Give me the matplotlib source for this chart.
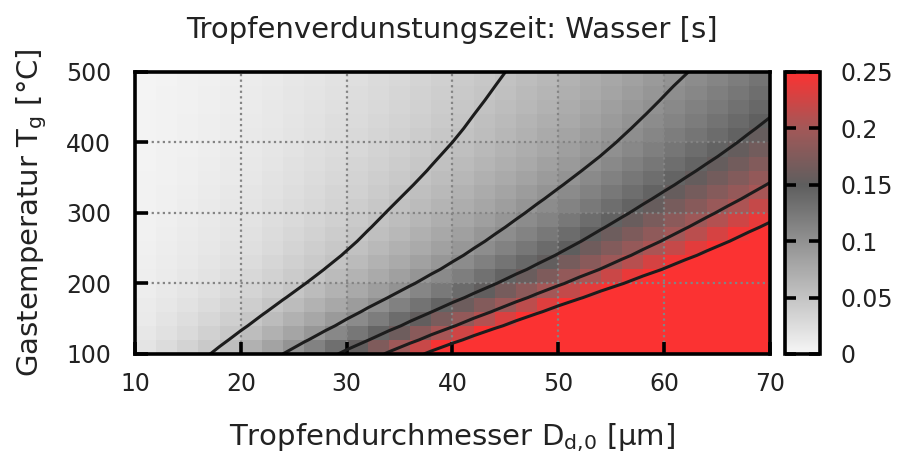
import numpy as np
import matplotlib
matplotlib.use("Agg")
import matplotlib.pyplot as plt
from matplotlib.colors import LinearSegmentedColormap

# droplet diameter D_d,0 [µm] (grid nodes)
diam = [10,12,14,16,18,20,22,24,26,28,30,32,34,36,38,40,42,44,46,48,50,52,54,56,58,60,62,64,66,68,70]
# gas temperature T_g [°C] (grid nodes)
temps = [100,120,140,160,180,200,220,240,260,280,300,320,340,360,380,400,420,440,460,480,500]
# evaporation time [ms], one row per temperature, one column per diameter
evap_time_ms = [
    [17,24,33,43,55,68,83,100,118,137,158,181,205,232,259,289,320,353,388,425,464,504,547,591,637,685,735,787,842,898,956],
    [13,19,27,35,44,55,67,80,95,110,127,146,165,186,209,233,258,285,313,342,373,406,440,476,513,552,592,634,678,723,770],
    [11,16,22,29,37,46,56,67,79,92,107,122,138,156,175,195,216,238,262,286,312,340,368,398,429,462,496,531,567,605,644],
    [9,14,19,25,31,39,47,57,67,78,90,103,117,132,148,164,182,201,221,242,264,287,311,336,362,390,418,448,479,511,544],
    [8,12,16,21,27,33,40,48,57,66,77,88,100,112,126,140,155,171,188,206,225,244,265,286,309,332,356,381,408,435,463],
    [7,10,14,18,23,28,35,41,49,57,66,75,85,96,108,120,133,147,162,177,193,210,227,246,265,285,306,328,350,374,398],
    [6,9,12,16,20,25,30,36,43,50,58,66,75,84,95,105,117,129,142,155,169,184,199,215,232,250,268,287,307,327,349],
    [5,8,11,14,18,22,27,32,38,44,51,59,67,75,84,94,104,115,126,138,151,164,177,192,207,222,239,256,273,291,310],
    [5,7,10,13,16,20,24,29,35,40,46,53,60,68,76,85,94,104,114,125,136,148,161,174,187,201,216,231,247,264,281],
    [4,6,9,12,15,18,22,27,32,37,42,49,55,62,70,78,86,95,104,114,124,135,147,159,171,184,197,211,226,241,257],
    [4,6,8,11,14,17,20,25,29,34,39,45,51,57,64,71,79,87,96,105,114,124,134,145,157,169,181,194,207,221,235],
    [4,5,7,10,13,16,19,23,27,31,36,41,47,53,59,66,73,80,88,97,105,114,124,134,145,156,167,179,191,204,217],
    [4,5,7,9,12,14,18,21,25,29,33,38,43,49,55,61,68,75,82,90,98,106,115,125,134,144,155,166,177,189,202],
    [3,5,6,8,11,13,16,20,23,27,31,36,40,45,51,57,63,69,76,83,91,99,107,116,125,134,144,155,165,176,188],
    [3,4,6,8,10,13,15,18,22,25,29,33,38,42,48,53,59,65,71,78,85,92,100,108,117,126,135,144,154,165,175],
    [3,4,6,7,9,12,14,17,20,24,27,31,35,40,45,50,55,61,67,73,80,87,94,102,110,118,127,136,145,155,165],
    [3,4,5,7,9,11,14,16,19,22,26,30,34,38,42,47,52,58,63,69,76,82,89,96,104,112,120,128,137,147,156],
    [3,4,5,7,9,11,13,15,18,21,25,28,32,36,40,45,50,55,60,66,72,78,85,92,99,106,114,122,130,139,148],
    [2,4,5,6,8,10,12,15,17,20,23,27,30,34,38,43,47,52,57,63,68,74,81,87,94,101,109,116,124,133,141],
    [2,3,5,6,8,10,12,14,17,19,22,26,29,33,37,41,45,50,55,60,65,71,77,83,90,97,104,111,119,127,135],
    [2,3,4,6,7,9,11,13,16,18,21,24,28,31,35,39,43,48,52,57,62,68,74,79,86,92,99,106,113,121,129],
]
contour_levels = [0.05, 0.1, 0.15, 0.2, 0.25]
x_ticks = [10, 20, 30, 40, 50, 60, 70]
y_ticks = [100, 200, 300, 400, 500]
cb_ticks = [0, 0.05, 0.1, 0.15, 0.2, 0.25]
cb_labels = ["0", "0.05", "0.1", "0.15", "0.2", "0.25"]

plt.rcParams['font.family'] = ['DejaVu Sans']
TXT = '#222222'
TICK_FS = 17
LAB_FS = 21

Z = np.array(evap_time_ms, float) / 1000.0
D = np.array(diam, float)
T = np.array(temps, float)


def smooth121(a, axis):
    """light [1,2,1]/4 smoothing (edges kept) to hide ms-rounding jitter in contours"""
    b = a.copy()
    if axis == 1:
        b[:, 1:-1] = 0.25 * a[:, :-2] + 0.5 * a[:, 1:-1] + 0.25 * a[:, 2:]
    else:
        b[1:-1, :] = 0.25 * a[:-2, :] + 0.5 * a[1:-1, :] + 0.25 * a[2:, :]
    return b


Zc = smooth121(smooth121(Z, 1), 0)

cmap = LinearSegmentedColormap.from_list(
    "evap", [(0, "#f6f6f6"), (0.6, "#5e5e5e"), (0.8, "#a25858"), (1.0, "#fb3232")])

fig = plt.figure(figsize=(9.04, 4.57), dpi=100)
ax = fig.add_axes([0.1493, 0.2254, 0.7025, 0.6171])
# pm3d-like flat cells: colour of each quad = mean of its four corners
C = 0.25 * (Z[:-1, :-1] + Z[1:, :-1] + Z[:-1, 1:] + Z[1:, 1:])
pc = ax.pcolormesh(D, T, C, cmap=cmap, vmin=0, vmax=0.25, shading='flat', zorder=0)
ax.contour(D, T, Zc, levels=contour_levels, colors="#1c1c1c", linewidths=2.2, zorder=3)
ax.set_xlim(10, 70)
ax.set_ylim(100, 500)
ax.set_xticks(x_ticks)
ax.set_yticks(y_ticks)
ax.set_axisbelow(False)
ax.tick_params(axis='both', direction='in', length=9, width=2.6, color='#000000',
               labelsize=TICK_FS, labelcolor=TXT, top=False, right=False)
ax.tick_params(axis='x', pad=13)
ax.tick_params(axis='y', pad=17)
for g in x_ticks[1:-1]:
    ax.axvline(g, color='#848484', lw=1.6, ls=(0, (1, 1.5)), zorder=2)
for g in y_ticks[1:-1]:
    ax.axhline(g, color='#848484', lw=1.6, ls=(0, (1, 1.5)), zorder=2)
for s in ax.spines.values():
    s.set_linewidth(2.6)
    s.set_zorder(5)
ax.set_xlabel("Tropfendurchmesser D$_{\\mathrm{d,\\!0}}$ [µm]", fontsize=LAB_FS, color=TXT, labelpad=18)
ax.set_ylabel("Gastemperatur T$_{\\mathrm{g}}$ [°C]", fontsize=LAB_FS, color=TXT, labelpad=12)
fig.text(0.5, 0.935, "Tropfenverdunstungszeit: Wasser [s]", ha='center', va='center',
         fontsize=LAB_FS, color=TXT)

cax = fig.add_axes([0.8684, 0.2254, 0.0387, 0.6171])
cb = fig.colorbar(pc, cax=cax, ticks=cb_ticks)
cb.ax.set_yticklabels(cb_labels)
cb.outline.set_linewidth(2.6)
cax.tick_params(direction='in', length=8, width=2.6, left=True, right=True,
                labelsize=TICK_FS, labelcolor=TXT, pad=15)
fig.savefig("out.png", dpi=100)
